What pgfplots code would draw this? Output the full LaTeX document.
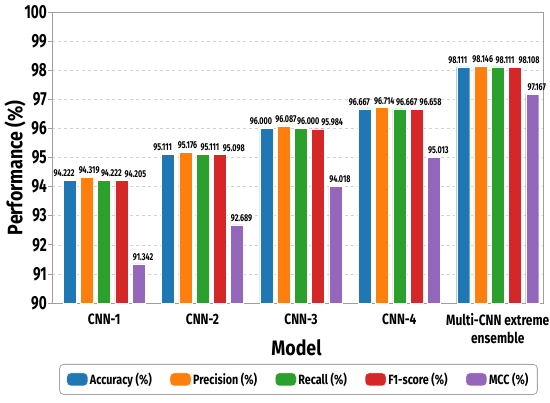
\documentclass[border=0pt]{standalone}
\usepackage{pgfplots}
\pgfplotsset{compat=1.18}
\usepackage{fontspec}
\setmainfont{Fira Sans}[FakeStretch=0.85]
\newfontfamily\condA{Fira Sans}[FakeStretch=0.72]
\newfontfamily\condB{Fira Sans}[FakeStretch=0.8]
\definecolor{c1}{HTML}{1F77B4}
\definecolor{c2}{HTML}{FF7F0E}
\definecolor{c3}{HTML}{2CA02C}
\definecolor{c4}{HTML}{D62728}
\definecolor{c5}{HTML}{9467BD}
\begin{document}
\begin{tikzpicture}
\useasboundingbox (-52bp,-100bp) rectangle (498bp,303bp);
\begin{axis}[
  at={(0,0)}, anchor=south west,
  scale only axis, width=491bp, height=291bp,
  ybar, bar width=13bp,
  xmin=-0.53, xmax=4.46, ymin=90, ymax=100,
  xtick={0,1,2,3,4},
  xticklabels={CNN-1,CNN-2,CNN-3,CNN-4,{Multi-CNN extreme\\ensemble}},
  ytick={90,91,...,100},
  xtick pos=bottom, ytick pos=left,
  ymajorgrids, grid style={dashed, gray!35, line width=0.5pt},
  axis line style={gray!75, line width=0.8pt},
  x tick style={draw=none},
  y tick style={gray!75, line width=0.8pt},
  tick align=outside, major tick length=4bp,
  /pgf/number format/assume math mode=true,
  yticklabel style={font=\condA\bfseries\fontsize{19}{19}\selectfont, inner xsep=1bp},
  xticklabel style={font=\condB\bfseries\fontsize{15}{17.5}\selectfont, align=center, yshift=-3bp},
  xlabel={Model}, ylabel={Performance (\%)},
  xlabel style={font=\bfseries\fontsize{21}{21}\selectfont, at={(axis description cs:0.498,0)}, anchor=center, yshift=-45bp},
  ylabel style={font=\bfseries\fontsize{21}{21}\selectfont, at={(axis description cs:0,0.465)}, anchor=center, yshift=37bp},
  nodes near coords={\pgfmathprintnumber[fixed,fixed zerofill,precision=3]{\pgfplotspointmeta}},
  every node near coord/.append style={font=\condA\bfseries\fontsize{10}{10}\selectfont, black, inner sep=1bp, yshift=2bp},
  legend image code/.code={\fill[#1] (0bp,-6.5bp) rectangle (21bp,6.5bp);},
  legend columns=5,
  legend style={at={(0.502,-0.2096)}, anchor=north, draw=gray!70, line width=0.8pt, rounded corners=4bp,
    font=\condB\bfseries\fontsize{13.5}{13.5}\selectfont, inner xsep=7bp, inner ysep=6.5bp,
    /tikz/every even column/.append style={column sep=16bp}},
]
\addplot[fill=c1, draw=white, line width=0.4pt, bar shift=-34.5bp, every node near coord/.append style={xshift=-5.5bp}]
  coordinates {(0,94.222) (1,95.111) (2,96.000) (3,96.667) (4,98.111)};
\addplot[fill=c2, draw=white, line width=0.4pt, bar shift=-17.25bp, every node near coord/.append style={xshift=2.25bp}]
  coordinates {(0,94.319) (1,95.176) (2,96.087) (3,96.714) (4,98.146)};
\addplot[fill=c3, draw=white, line width=0.4pt, bar shift=0bp, every node near coord/.append style={xshift=7.3bp}]
  coordinates {(0,94.222) (1,95.111) (2,96.000) (3,96.667) (4,98.111)};
\addplot[fill=c4, draw=white, line width=0.4pt, bar shift=17.25bp, every node near coord/.append style={xshift=14bp}]
  coordinates {(0,94.205) (1,95.098) (2,95.984) (3,96.658) (4,98.108)};
\addplot[fill=c5, draw=white, line width=0.4pt, bar shift=34.5bp, every node near coord/.append style={xshift=4.5bp}]
  coordinates {(0,91.342) (1,92.689) (2,94.018) (3,95.013) (4,97.167)};
\legend{Accuracy (\%), Precision (\%), Recall (\%), F1-score (\%), MCC (\%)}
\end{axis}
\end{tikzpicture}
\end{document}
